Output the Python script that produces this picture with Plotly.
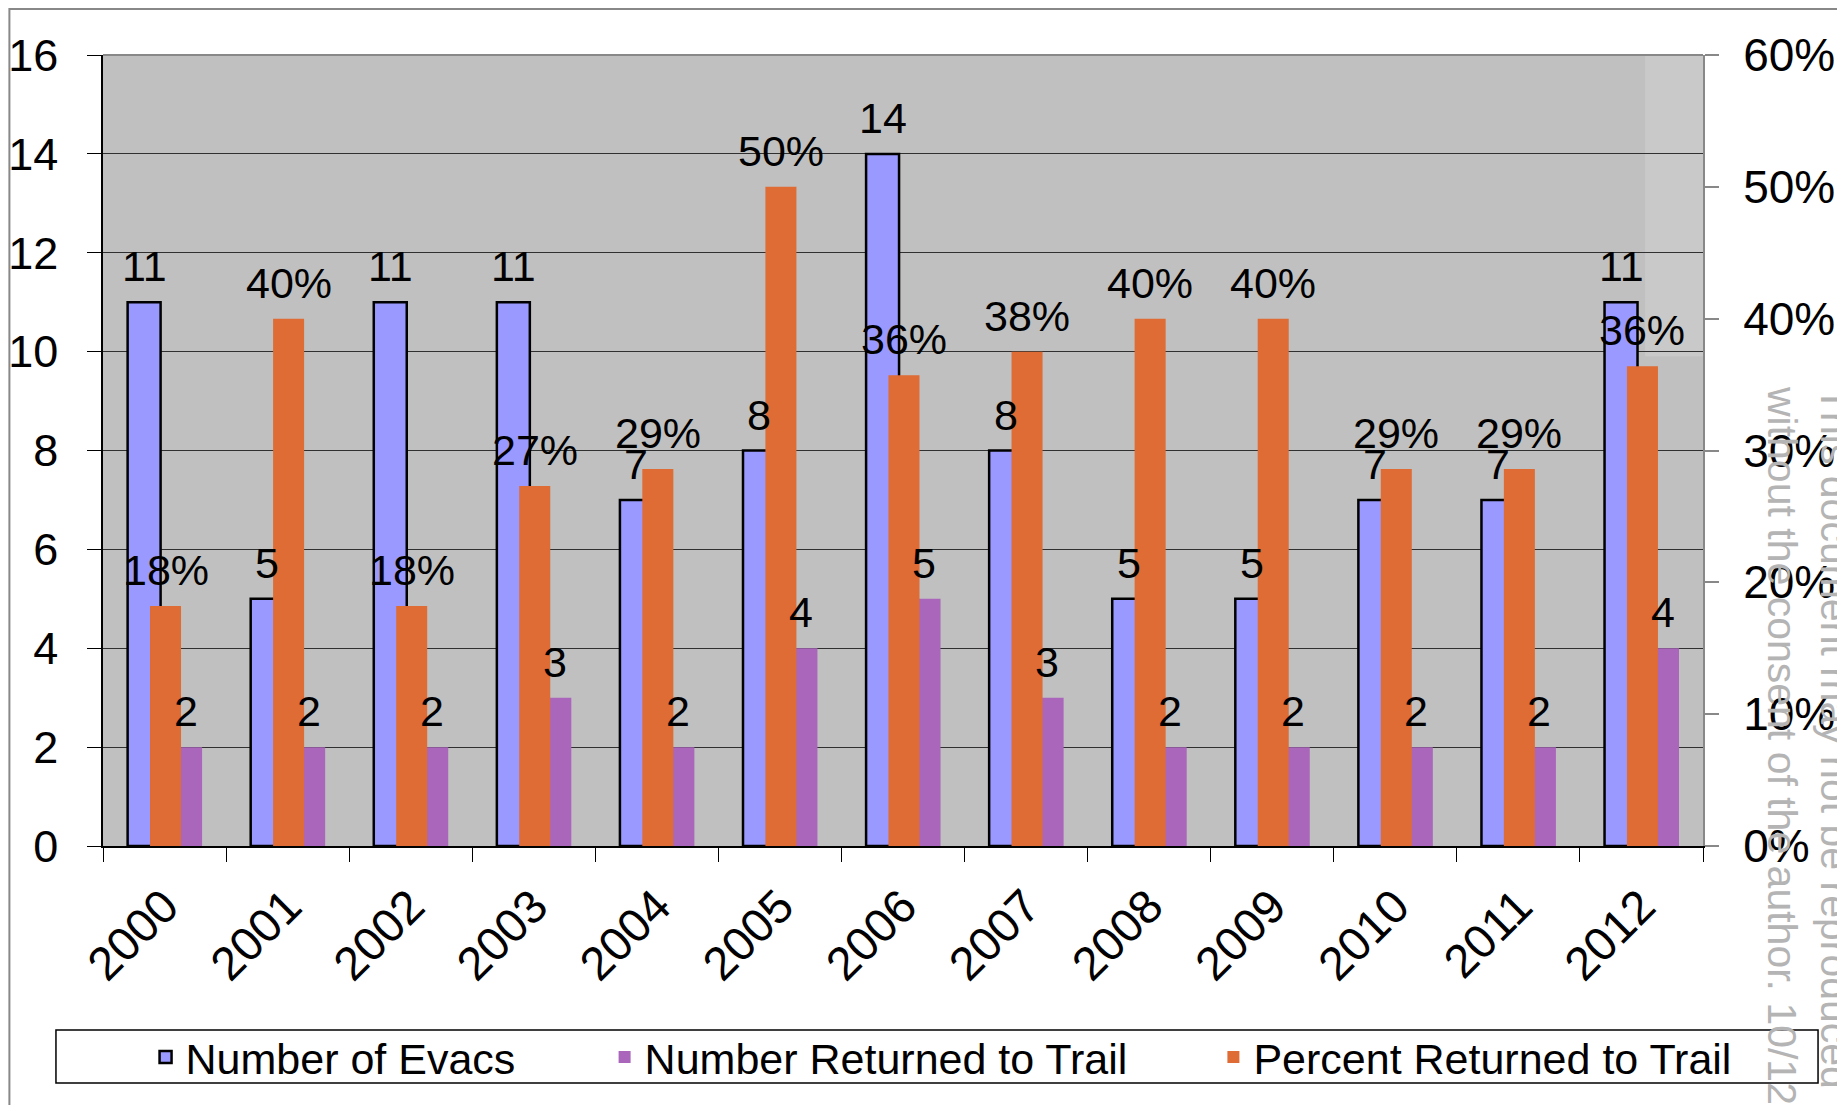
import plotly.graph_objects as go

years = ["2000", "2001", "2002", "2003", "2004", "2005", "2006",
         "2007", "2008", "2009", "2010", "2011", "2012"]
evacs = [11, 5, 11, 11, 7, 8, 14, 8, 5, 5, 7, 7, 11]
returned = [2, 2, 2, 3, 2, 4, 5, 3, 2, 2, 2, 2, 4]
percent = [0.182, 0.40, 0.182, 0.273, 0.286, 0.50, 0.357,
           0.375, 0.40, 0.40, 0.286, 0.286, 0.364]

FONT = "Liberation Sans, Arial, sans-serif"
C_BLUE = "#9999FF"
C_PURPLE = "#AA66BB"
C_ORANGE = "#DF6B35"

# bar geometry in category units
BW = 0.268
OFF_BLUE = -0.300
OFF_PURPLE = 0.037
OW = 0.252
OFF_ORANGE = -0.118

fig = go.Figure()
fig.add_trace(go.Bar(
    x=years, y=evacs, name="Number of Evacs",
    marker=dict(color=C_BLUE, line=dict(color="black", width=2.5)),
    offset=OFF_BLUE, width=BW, legend="legend"))
fig.add_trace(go.Bar(
    x=years, y=returned, name="Number Returned to Trail",
    marker=dict(color=C_PURPLE, line=dict(width=0)),
    offset=OFF_PURPLE, width=BW, legend="legend2"))
fig.add_trace(go.Bar(
    x=years, y=percent, name="Percent Returned to Trail", yaxis="y2",
    marker=dict(color=C_ORANGE, line=dict(width=0)),
    offset=OFF_ORANGE, width=OW, legend="legend3"))

annotations = []
LBL = 43
YS = 10
for i, v in enumerate(evacs):
    annotations.append(dict(x=i + OFF_BLUE + BW / 2, y=v, xref="x", yref="y",
                            text=str(v), showarrow=False, yanchor="bottom",
                            yshift=YS, font=dict(size=LBL, color="black", family=FONT)))
for i, v in enumerate(returned):
    annotations.append(dict(x=i + OFF_PURPLE + BW / 2, y=v, xref="x", yref="y",
                            text=str(v), showarrow=False, yanchor="bottom",
                            yshift=YS, font=dict(size=LBL, color="black", family=FONT)))
for i, v in enumerate(percent):
    annotations.append(dict(x=i + OFF_ORANGE + OW / 2, y=v, xref="x", yref="y2",
                            text="{:.0%}".format(v), showarrow=False, yanchor="bottom",
                            yshift=YS, font=dict(size=LBL, color="black", family=FONT)))

# watermark text
annotations.append(dict(
    xref="paper", yref="paper", x=1.066, y=0.584, xanchor="center", yanchor="top",
    text="This document may not be reproduced<br>without the consent of the author. 10/12",
    textangle=90, align="left", showarrow=False,
    font=dict(size=41, color="#B4B4B4", family=FONT)))

shapes = [
    # lighter watermark patch inside plot
    dict(type="rect", xref="paper", yref="paper", x0=0.9638, x1=1.0, y0=0.619, y1=1.0,
         fillcolor="#C9C9C9", line=dict(width=0), layer="below"),
    # plot top border
    dict(type="line", xref="paper", yref="paper", x0=0, x1=1, y0=1, y1=1,
         line=dict(color="#888888", width=2)),
    # outer chart border
    dict(type="rect", xref="paper", yref="paper", x0=-0.0585, x1=1.0875, y0=-0.40, y1=1.0580,
         line=dict(color="#888888", width=2), fillcolor="rgba(0,0,0,0)"),
    # legend box
    dict(type="rect", xref="paper", yref="paper", x0=-0.0294, x1=1.0719, y0=-0.2996, y1=-0.2326,
         line=dict(color="black", width=1.5), fillcolor="rgba(0,0,0,0)"),
]

leg_common = dict(orientation="h", yanchor="middle", y=-0.2668, xanchor="left",
                  bgcolor="rgba(0,0,0,0)", borderwidth=0,
                  font=dict(size=43, color="black", family=FONT))

fig.update_layout(
    width=1837, height=1097,
    margin=dict(l=95, r=142, t=47, b=259, autoexpand=False),
    paper_bgcolor="white", plot_bgcolor="#C0C0C0",
    barmode="overlay",
    showlegend=True,
    font=dict(family=FONT, color="black"),
    xaxis=dict(type="category", tickson="boundaries", ticks="outside", ticklen=14,
               tickcolor="black", tickwidth=1.2, tickangle=-45,
               tickfont=dict(size=47, family=FONT, color="black"),
               ticklabelstandoff=12,
               showline=True, linecolor="black", linewidth=1.5, automargin=False,
               showgrid=False, range=[-0.5, 12.5]),
    yaxis=dict(range=[0, 16], dtick=2, ticks="outside", ticklen=14, tickcolor="black",
               tickwidth=1.2, tickfont=dict(size=45, family=FONT, color="black"),
               ticklabelstandoff=20, automargin=False,
               showline=True, linecolor="black", linewidth=1.5,
               showgrid=True, gridcolor="#303030", gridwidth=1, zeroline=False),
    yaxis2=dict(range=[0, 0.6], dtick=0.1, tickformat=".0%", overlaying="y", side="right",
                ticks="outside", ticklen=14, tickcolor="#888888", tickwidth=1.5,
                tickfont=dict(size=46, family=FONT, color="black"),
                ticklabelstandoff=15, automargin=False,
                showline=True, linecolor="#888888", linewidth=2,
                showgrid=False, zeroline=False),
    legend=dict(x=0.0266, **leg_common),
    legend2=dict(x=0.3135, **leg_common),
    legend3=dict(x=0.694, **leg_common),
    annotations=annotations,
    shapes=shapes,
)

fig.write_html("out.html")
